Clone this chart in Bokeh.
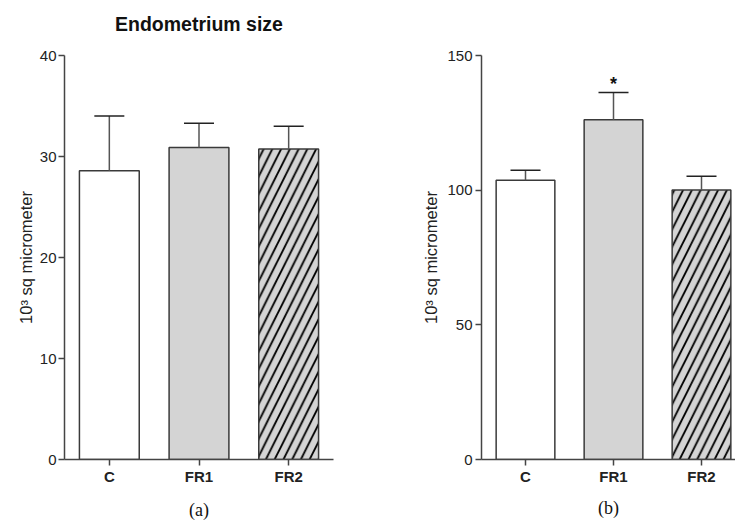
from bokeh.plotting import figure
from bokeh.layouts import row
from bokeh.models import Range1d, FixedTicker, LinearAxis, ColumnDataSource
from bokeh.core.properties import value
from bokeh.embed import file_html
from bokeh.resources import INLINE

# ---- data ----
categories = ["C", "FR1", "FR2"]
endo_means = [28.6, 30.9, 30.75]
endo_sem = [5.4, 2.4, 2.25]
b_means = [103.7, 126.1, 100.1]
b_sem = [3.7, 10.2, 5.1]
b_sig = ["", "*", ""]
y_label = "10³ sq micrometer"
title_a = "Endometrium size"
caption_a = "(a)"
caption_b = "(b)"
ticks_a = [0, 10, 20, 30, 40]
ticks_b = [0, 50, 100, 150]

fills = ["white", "#d4d4d4", "#d4d4d4"]
hatches = [" ", " ", "/"]
FONT = "Liberation Sans"


def make_panel(means, sem, yticks, ymax, xend, fw, fh, left, right, top, bottom):
    xs = [i + 0.5 for i in range(len(categories))]
    upper = [m + s for m, s in zip(means, sem)]
    src = ColumnDataSource(dict(x=xs, top=means, upper=upper, fill=fills, hatch=hatches))
    p = figure(frame_width=fw, frame_height=fh, min_border_left=left,
               min_border_right=right, min_border_top=top, min_border_bottom=bottom,
               x_range=Range1d(0, xend), y_range=Range1d(0, ymax),
               output_backend="svg", toolbar_location=None,
               background_fill_color="white", border_fill_color="white")
    p.outline_line_color = None
    p.xgrid.visible = False
    p.ygrid.visible = False
    p.vbar(x="x", top="top", width=0.667, source=src, fill_color="fill",
           line_color="#3a3a3a", line_width=1.5, hatch_pattern="hatch",
           hatch_color="black", hatch_weight=1.8, hatch_scale=17.5)
    p.segment(x0="x", y0="top", x1="x", y1="upper", source=src,
              line_color="#555555", line_width=1.5)
    p.scatter(x="x", y="upper", source=src, marker="dash", size=30,
              line_color="#222222", line_width=1.5)
    # axes
    xax = p.below[0]
    yax = p.left[0]
    xax.ticker = FixedTicker(ticks=xs)
    xax.major_label_overrides = {x: c for x, c in zip(xs, categories)}
    yax.ticker = FixedTicker(ticks=yticks)
    for ax in (xax, yax):
        ax.axis_line_color = "#444444"
        ax.axis_line_width = 1.5
        ax.major_tick_line_color = "#444444"
        ax.major_tick_line_width = 1.5
        ax.major_tick_out = 6
        ax.major_tick_in = 0
        ax.minor_tick_out = 0
        ax.minor_tick_in = 0
        ax.major_label_text_font = FONT
        ax.major_label_text_color = "#222222"
    xax.major_label_text_font_size = "15px"
    xax.major_label_text_font_style = "bold"
    xax.major_label_standoff = 2
    yax.major_label_text_font_size = "15px"
    yax.major_label_standoff = 2
    yax.axis_label = y_label
    yax.axis_label_text_font = FONT
    yax.axis_label_text_font_size = "16.5px"
    yax.axis_label_text_font_style = "normal"
    yax.axis_label_text_color = "#222222"
    return p, src


def caption(p, text, standoff):
    ax = p.below[0]
    ax.axis_label = text
    ax.axis_label_text_font = "Liberation Serif"
    ax.axis_label_text_font_size = "18px"
    ax.axis_label_text_font_style = "normal"
    ax.axis_label_text_color = "#111111"
    ax.axis_label_standoff = standoff


# left panel (a)
pa, src_a = make_panel(endo_means, endo_sem, ticks_a, 40, 3.0, 269, 404, 64, 37, 55, 61)
pa.left[0].axis_label_standoff = 2
caption(pa, caption_a, 12)
title_axis = LinearAxis(ticker=FixedTicker(ticks=[]), axis_line_color=None,
                        major_tick_out=0, minor_tick_out=0, major_label_text_font_size="0px",
                        axis_label=title_a, axis_label_standoff=21,
                        axis_label_text_font=FONT, axis_label_text_font_size="19.5px",
                        axis_label_text_font_style="bold", axis_label_text_color="#111111")
pa.add_layout(title_axis, "above")

# right panel (b)
pb, src_b = make_panel(b_means, b_sem, ticks_b, 150, 254 / 88, 254, 404, 111, 0, 55, 61)
pb.left[0].axis_label_standoff = 4
pb.left[0].major_label_standoff = 3
src_b.data["sig"] = b_sig
pb.text(x="x", y="upper", text="sig", source=src_b, text_align="center",
        text_baseline="bottom", y_offset=2, text_font=value(FONT), text_font_size="18px",
        text_font_style="bold", text_color="#111111")
caption(pb, caption_b, 10)

layout = row(pa, pb)
open("out.html", "w").write(file_html(layout, INLINE))
